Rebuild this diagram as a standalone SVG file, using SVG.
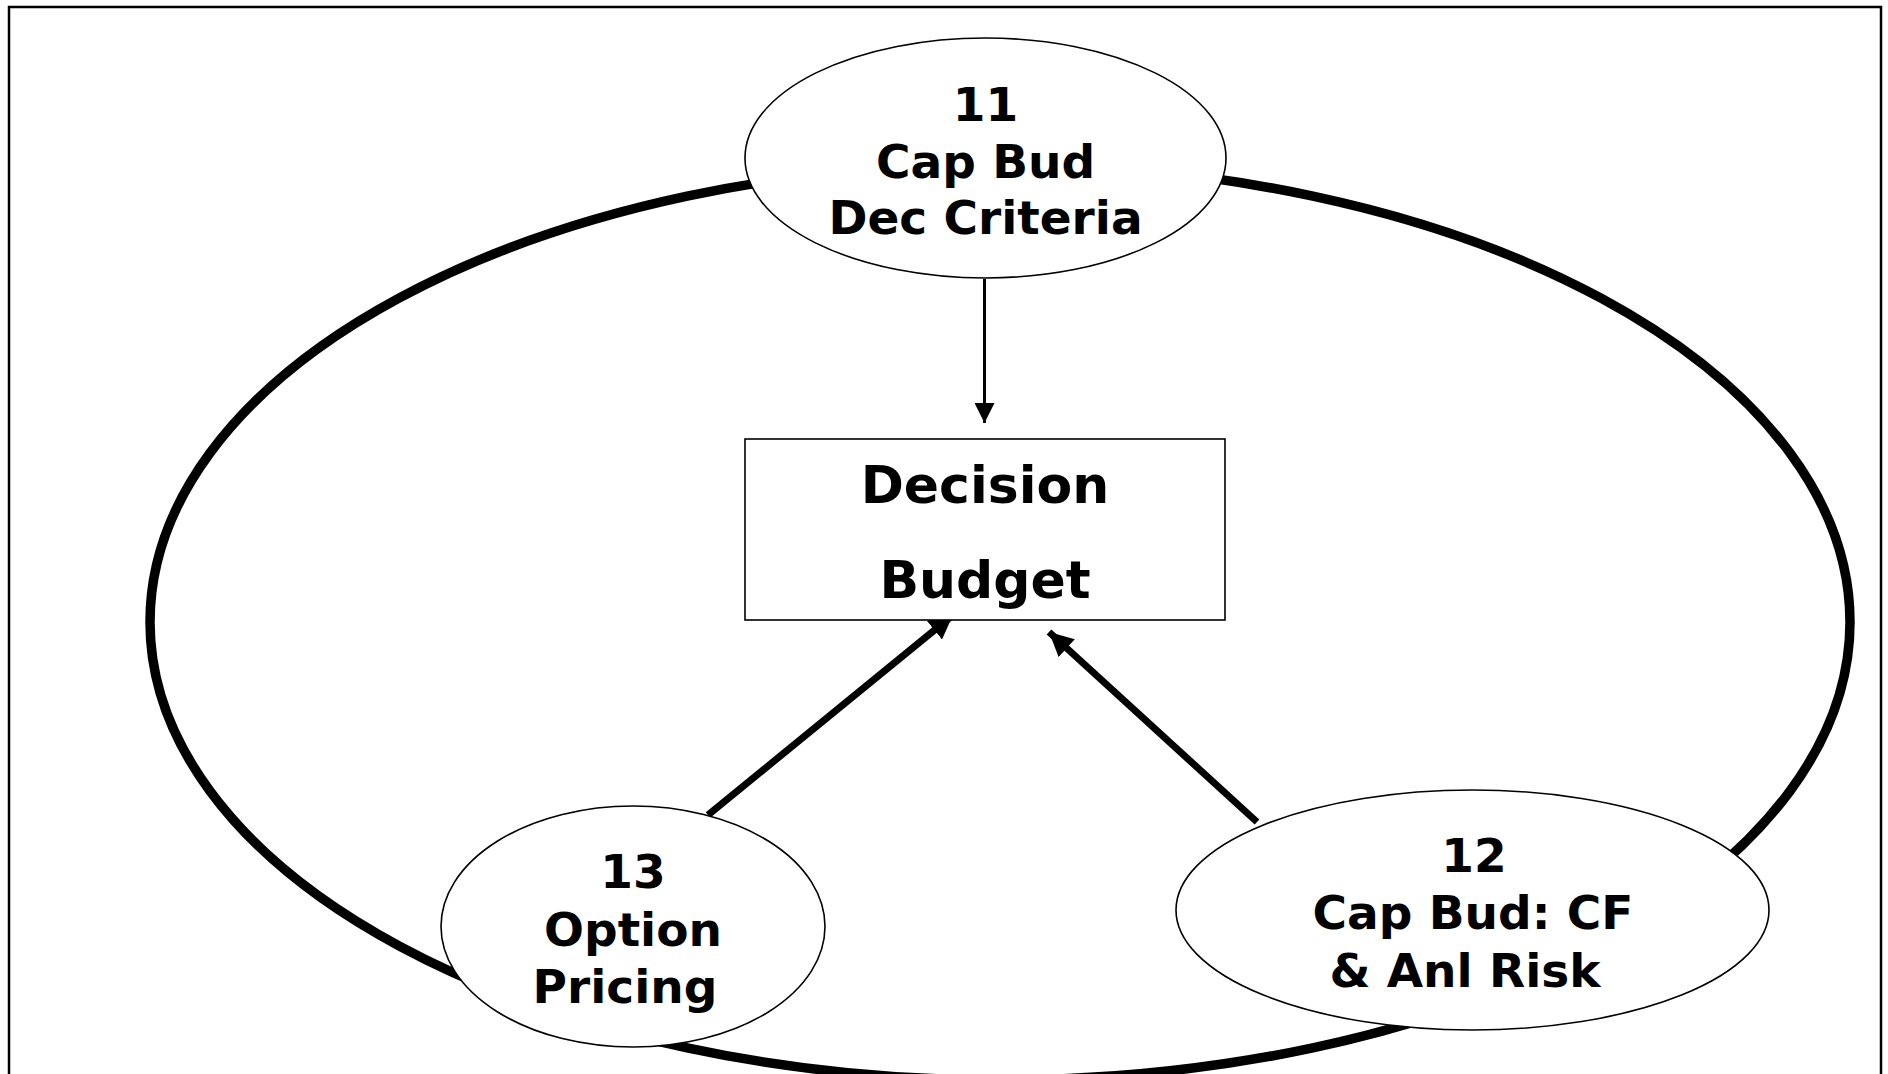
<svg xmlns="http://www.w3.org/2000/svg" width="1888" height="1074" viewBox="0 0 1888 1074">
<defs>
<style>
.t{font-family:"DejaVu Sans","Verdana",sans-serif;font-weight:bold;fill:#000;text-anchor:middle}
.n{font-size:47px}
.b{font-size:52px}
.node{fill:#fff;stroke:#000;stroke-width:1.6}
.conn{stroke:#000;fill:none}
</style>
<marker id="ahs" markerUnits="userSpaceOnUse" markerWidth="20" markerHeight="20" viewBox="0 0 18 18" refX="18" refY="9" orient="auto">
<path d="M0,0 L18,9 L0,18 Z" fill="#000"/>
</marker>
<marker id="ahl" markerUnits="userSpaceOnUse" markerWidth="24" markerHeight="24" viewBox="0 0 22 22" refX="22" refY="11" orient="auto">
<path d="M0,0 L22,11 L0,22 Z" fill="#000"/>
</marker>
</defs>
<rect x="0" y="0" width="1888" height="1074" fill="#fff"/>
<rect id="frame" x="9" y="7" width="1872" height="1100" fill="none" stroke="#000" stroke-width="2.5"/>
<ellipse id="cycle" cx="1000" cy="622" rx="850" ry="458" fill="none" stroke="#000" stroke-width="9.5"/>
<g id="connectors">
<line class="conn" x1="984.5" y1="279" x2="984.5" y2="423" stroke-width="3" marker-end="url(#ahs)"/>
<line class="conn" x1="708" y1="815" x2="953" y2="615" stroke-width="7" marker-end="url(#ahl)"/>
<line class="conn" x1="1257" y1="822" x2="1049" y2="632" stroke-width="7" marker-end="url(#ahl)"/>
</g>
<g id="n11">
<ellipse class="node" cx="985.5" cy="158" rx="240.5" ry="120"/>
<text class="t n" x="985.5" y="121">11</text>
<text class="t n" x="985.5" y="178">Cap Bud</text>
<text class="t n" x="985.5" y="234">Dec Criteria</text>
</g>
<g id="decision">
<rect x="745" y="439" width="480" height="181" fill="#fff" stroke="#000" stroke-width="1.6"/>
<text class="t b" x="985" y="503">Decision</text>
<text class="t b" x="985" y="598">Budget</text>
</g>
<g id="n13">
<ellipse class="node" cx="633" cy="926.5" rx="192" ry="120.5"/>
<text class="t n" x="633" y="888">13</text>
<text class="t n" x="633" y="946">Option</text>
<text class="t n" x="625" y="1003">Pricing</text>
</g>
<g id="n12">
<ellipse class="node" cx="1472.5" cy="910" rx="296.5" ry="120"/>
<text class="t n" x="1474" y="872">12</text>
<text class="t n" x="1473" y="929">Cap Bud: CF</text>
<text class="t n" x="1465" y="987">&amp; Anl Risk</text>
</g>
</svg>
